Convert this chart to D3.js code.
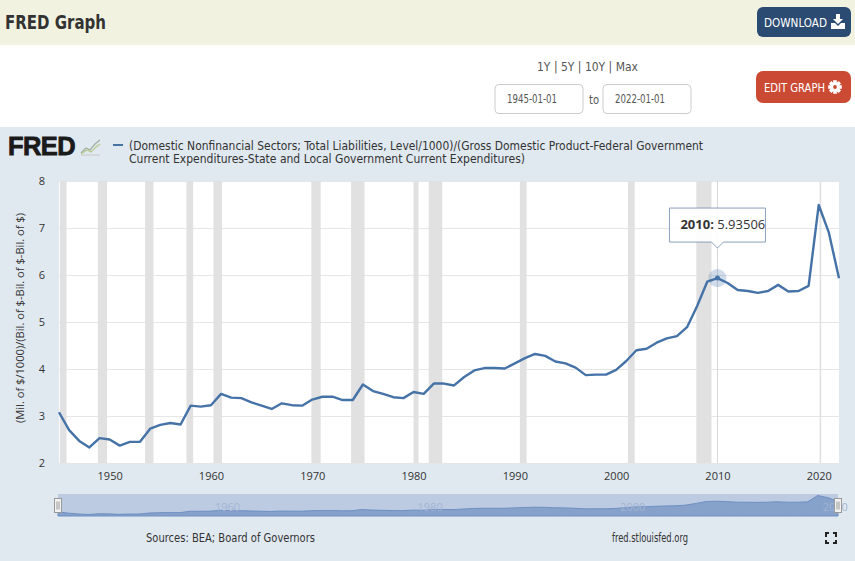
<!DOCTYPE html>
<html>
<head>
<meta charset="utf-8">
<script src="https://cdn.jsdelivr.net/npm/d3@7"></script>
<style>
  body { margin: 0; background: #e1e9f0; }
  svg { display: block; }
  .cond { font-family: "Liberation Sans Narrow", "DejaVu Sans Condensed", "Open Sans", sans-serif; }
  .axis text { font-family: "Open Sans", sans-serif; font-size: 11px; fill: #333; }
  .axis .domain { display: none; }
</style>
</head>
<body>
<div id="chart"></div>
<script>
/* DATA */
const years = d3.range(1945, 2023);
const values = [
  3.08, 2.70, 2.47, 2.33, 2.53, 2.50, 2.37, 2.45, 2.45, 2.73, // 1945-1954
  2.81, 2.85, 2.82, 3.22, 3.20, 3.23, 3.47, 3.39, 3.38, 3.29, // 1955-1964
  3.22, 3.15, 3.27, 3.23, 3.22, 3.35, 3.41, 3.41, 3.34, 3.34, // 1965-1974
  3.67, 3.53, 3.47, 3.40, 3.38, 3.51, 3.47, 3.69, 3.69, 3.65, // 1975-1984
  3.83, 3.97, 4.02, 4.02, 4.01, 4.12, 4.23, 4.32, 4.28, 4.16, // 1985-1994
  4.12, 4.03, 3.87, 3.88, 3.88, 3.98, 4.17, 4.40, 4.43, 4.56, // 1995-2004
  4.65, 4.70, 4.89, 5.34, 5.86, 5.93506, 5.83, 5.68, 5.66, 5.62, // 2005-2014
  5.66, 5.79, 5.65, 5.66, 5.77, 7.49, 6.90, 5.93              // 2015-2022
];
const xTickYears = [1950, 1960, 1970, 1980, 1990, 2000, 2010, 2020];
const yTicks = [2, 3, 4, 5, 6, 7, 8];
const navLabelYears = [1960, 1980, 2000, 2020];
const recessions = [
  ["1945-02-01", "1945-10-01"], ["1948-11-01", "1949-10-01"],
  ["1953-07-01", "1954-05-01"], ["1957-08-01", "1958-04-01"],
  ["1960-04-01", "1961-02-01"], ["1969-12-01", "1970-11-01"],
  ["1973-11-01", "1975-03-01"], ["1980-01-01", "1980-07-01"],
  ["1981-07-01", "1982-11-01"], ["1990-07-01", "1991-03-01"],
  ["2001-03-01", "2001-11-01"], ["2007-12-01", "2009-06-01"],
  ["2020-02-01", "2020-04-01"]
];
const seriesTitle = [
  "(Domestic Nonfinancial Sectors; Total Liabilities, Level/1000)/(Gross Domestic Product-Federal Government",
  "Current Expenditures-State and Local Government Current Expenditures)"
];
const yTitle = "(Mil. of $/1000)/(Bil. of $-Bil. of $-Bil. of $)";
const dateRange = ["1945-01-01", "2022-01-01"];
const hoverYear = 2010;

/* LAYOUT */
const width = 855, height = 561;
const plot = { left: 59, right: 839, top: 181, bottom: 463 };
const nav = { left: 58, right: 838, top: 494, bottom: 516 };
const lineColor = "#4572a7";

const parse = d3.timeParse("%Y-%m-%d");
const data = years.map((y, i) => ({ year: y, date: new Date(y, 0, 1), value: values[i] }));

const svg = d3.select("#chart").append("svg")
  .attr("width", width)
  .attr("height", height);

// condensed label squeezed to the width it has in the original
function condText(parent, x, y, size, fill, text, w) {
  return parent.append("text").attr("class", "cond")
    .attr("x", x).attr("y", y)
    .attr("font-size", size).attr("fill", fill)
    .attr("textLength", w).attr("lengthAdjust", "spacingAndGlyphs")
    .text(text);
}

/* PAGE CHROME */
svg.append("rect").attr("width", width).attr("height", 45).attr("fill", "#f2f2e1");
svg.append("rect").attr("y", 45).attr("width", width).attr("height", 82).attr("fill", "#ffffff");
svg.append("rect").attr("y", 127).attr("width", width).attr("height", height - 127).attr("fill", "#e1e9f0");

condText(svg, 5, 29, 20, "#333", "FRED Graph", 101).attr("font-weight", "bold");

// download button
svg.append("rect").attr("x", 757).attr("y", 7).attr("width", 94).attr("height", 30)
  .attr("rx", 6).attr("fill", "#2c4b72");
condText(svg, 764, 26.5, 12.5, "#fff", "DOWNLOAD", 63);
const dl = svg.append("g").attr("transform", "translate(838,22)").attr("fill", "#fff");
dl.append("path").attr("d", "M-2,-8 h4 v5 h3 l-5,5 l-5,-5 h3 z");
dl.append("path").attr("d", "M-7,1 h4 l3,3 l3,-3 h4 v6 h-14 z");

// date selector
condText(svg, 537, 71, 11.5, "#555", "1Y | 5Y | 10Y | Max", 101);
[[495, dateRange[0]], [603, dateRange[1]]].forEach(([x, t]) => {
  svg.append("rect").attr("x", x).attr("y", 84.5).attr("width", 88).attr("height", 29)
    .attr("rx", 4).attr("fill", "#fff").attr("stroke", "#ccc");
  condText(svg, x + 12, 103, 11.5, "#555", t, 50);
});
condText(svg, 589, 104, 12, "#555", "to", 10);

// edit graph button
svg.append("rect").attr("x", 756).attr("y", 71).attr("width", 95).attr("height", 32)
  .attr("rx", 7).attr("fill", "#cb4a34");
condText(svg, 764, 91.5, 12.5, "#fff", "EDIT GRAPH", 61);
const gear = svg.append("g").attr("transform", "translate(835,87)").attr("fill", "#fff");
gear.selectAll("rect")
  .data(d3.range(4))
  .join("rect")
  .attr("x", -1.8).attr("y", -6.8).attr("width", 3.6).attr("height", 13.6)
  .attr("transform", d => `rotate(${d * 45})`);
gear.append("circle").attr("r", 4.6);
gear.append("circle").attr("r", 1.9).attr("fill", "#cb4a34");

/* FRED LOGO + LEGEND */
svg.append("text")
  .attr("x", 8).attr("y", 154.5)
  .attr("font-family", "Liberation Sans, Arial, sans-serif").attr("font-weight", "bold")
  .attr("font-size", 25.5).attr("letter-spacing", -0.6)
  .attr("fill", "#1a1a1a").attr("stroke", "#1a1a1a").attr("stroke-width", 0.8)
  .text("FRED");
const icon = svg.append("g").attr("transform", "translate(81,139)");
icon.append("path").attr("d", "M0,14 L5,9 L9,11 L14,5 L19,1").attr("fill", "none")
  .attr("stroke", "#9fb0a0").attr("stroke-width", 1.2);
icon.append("path").attr("d", "M0,15 L6,11 L10,13 L15,8 L19,5").attr("fill", "none")
  .attr("stroke", "#b9c98f").attr("stroke-width", 1.2);
icon.append("path").attr("d", "M0,16 L19,16").attr("stroke", "#c8c8c8").attr("stroke-width", 1);

svg.append("line")
  .attr("x1", 113).attr("x2", 123).attr("y1", 145).attr("y2", 145)
  .attr("stroke", lineColor).attr("stroke-width", 2);
seriesTitle.forEach((t, i) => {
  condText(svg, 129, 149.5 + i * 13, 12, "#333", t, i === 0 ? 574 : 396);
});

/* SCALES */
const xScale = d3.scaleTime()
  .domain(dateRange.map(parse))
  .range([plot.left, plot.right]);

const yScale = d3.scaleLinear()
  .domain([2, 8])
  .range([plot.bottom, plot.top]);

/* PLOT */
svg.append("rect")
  .attr("x", plot.left).attr("y", plot.top)
  .attr("width", plot.right - plot.left).attr("height", plot.bottom - plot.top)
  .attr("fill", "#fff");

// gridlines + y labels
svg.append("g")
  .attr("class", "axis y-axis")
  .attr("transform", `translate(${plot.left},0)`)
  .call(d3.axisLeft(yScale).tickValues(yTicks).tickFormat(d3.format("d"))
    .tickSize(-(plot.right - plot.left)).tickPadding(14))
  .call(g => g.selectAll(".tick line").attr("stroke", "#e6e6e6"));

// recession bands
svg.append("g")
  .selectAll("rect")
  .data(recessions)
  .join("rect")
  .attr("x", d => xScale(parse(d[0])))
  .attr("width", d => xScale(parse(d[1])) - xScale(parse(d[0])))
  .attr("y", plot.top)
  .attr("height", plot.bottom - plot.top)
  .attr("fill", "#e1e1e1");

// x labels
svg.append("g")
  .attr("class", "axis x-axis")
  .attr("transform", `translate(0,${plot.bottom})`)
  .call(d3.axisBottom(xScale)
    .tickValues(xTickYears.map(y => new Date(y, 0, 1)))
    .tickFormat(d3.timeFormat("%Y"))
    .tickSize(0).tickPadding(9));

// y title
svg.append("text")
  .attr("transform", `translate(24,${(plot.top + plot.bottom) / 2 - 4}) rotate(-90)`)
  .attr("text-anchor", "middle")
  .attr("font-family", "Open Sans, sans-serif").attr("font-size", 11).attr("fill", "#333")
  .attr("textLength", 210).attr("lengthAdjust", "spacingAndGlyphs")
  .text(yTitle);

// crosshair
const hover = data.find(d => d.year === hoverYear);
svg.append("line")
  .attr("x1", xScale(hover.date)).attr("x2", xScale(hover.date))
  .attr("y1", plot.top).attr("y2", plot.bottom)
  .attr("stroke", "#d6d6d6").attr("stroke-width", 1);

// series line
const lineFunc = d3.line()
  .x(d => xScale(d.date))
  .y(d => yScale(d.value));

svg.append("path")
  .datum(data)
  .attr("class", "trend")
  .attr("fill", "none")
  .attr("stroke", lineColor)
  .attr("stroke-width", 2.4)
  .attr("stroke-linejoin", "round")
  .attr("d", lineFunc);

// hover marker
svg.append("circle")
  .attr("cx", xScale(hover.date)).attr("cy", yScale(hover.value)).attr("r", 9)
  .attr("fill", lineColor).attr("fill-opacity", 0.25);
svg.append("circle")
  .attr("cx", xScale(hover.date)).attr("cy", yScale(hover.value)).attr("r", 2.5)
  .attr("fill", lineColor);

// tooltip
const tx = xScale(hover.date), ty = yScale(hover.value) - 31;
const tw = 96, th = 34;
const tip = svg.append("g").attr("transform", `translate(${tx},${ty})`);
tip.append("path")
  .attr("d", `M${-tw / 2},${-th - 5} h${tw} v${th} h${-(tw / 2 - 6)} l-6,6 l-6,-6 h${-(tw / 2 - 6)} z`)
  .attr("fill", "rgba(255,255,255,0.92)")
  .attr("stroke", "#8aa0bd").attr("stroke-width", 1);
const tipText = tip.append("text")
  .attr("x", -tw / 2 + 11).attr("y", -th / 2 - 1)
  .attr("font-family", "Open Sans, sans-serif").attr("font-size", 13).attr("fill", "#333");
tipText.append("tspan").attr("font-weight", "bold").text(`${hover.year}:`);
tipText.append("tspan").text(` ${hover.value}`);

/* NAVIGATOR */
const navX = d3.scaleTime()
  .domain(dateRange.map(parse))
  .range([nav.left, nav.right]);
const navY = d3.scaleLinear()
  .domain(d3.extent(values))
  .range([nav.bottom - 1.5, nav.top + 1.5]);

svg.append("rect")
  .attr("x", nav.left).attr("y", nav.top)
  .attr("width", nav.right - nav.left).attr("height", nav.bottom - nav.top)
  .attr("fill", "#bccbe2");

const areaFunc = d3.area()
  .x(d => navX(d.date))
  .y0(nav.bottom)
  .y1(d => navY(d.value));
svg.append("path")
  .datum(data)
  .attr("fill", "#86a1ca")
  .attr("stroke", "#6f8fc2")
  .attr("stroke-width", 1)
  .attr("d", areaFunc);

svg.append("g")
  .selectAll("text")
  .data(navLabelYears)
  .join("text")
  .attr("x", d => navX(new Date(d, 0, 1)) + 5)
  .attr("y", 511)
  .attr("font-family", "Open Sans, sans-serif").attr("font-size", 11)
  .attr("fill", "#a3b5d3")
  .text(d => d);

// handles
[nav.left, nav.right].forEach(x => {
  const h = svg.append("g").attr("transform", `translate(${x},505.5)`);
  h.append("rect").attr("x", -3.5).attr("y", -7).attr("width", 7).attr("height", 14)
    .attr("fill", "#f2f2f2").attr("stroke", "#999").attr("stroke-width", 1);
  h.append("path").attr("d", "M-1,-4 v8 M1,-4 v8").attr("stroke", "#999").attr("stroke-width", 1);
});

/* FOOTER */
condText(svg, 146, 542, 12.5, "#333", "Sources: BEA; Board of Governors", 169);
condText(svg, 612, 542, 12.5, "#333", "fred.stlouisfed.org", 76);
svg.append("path")
  .attr("d", "M826,537 v-4 h3 M833,533 h3 v4 M836,540 v3 h-3 M829,543 h-3 v-3")
  .attr("fill", "none").attr("stroke", "#222").attr("stroke-width", 2);
</script>
</body>
</html>
